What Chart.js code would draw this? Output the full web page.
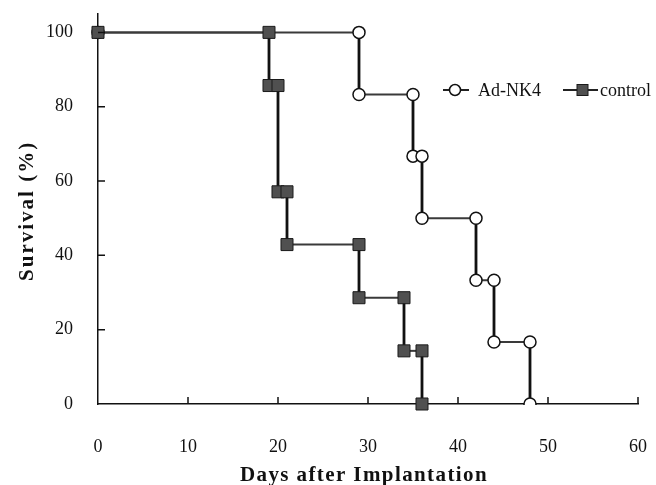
<!DOCTYPE html>
<html>
<head>
<meta charset="utf-8">
<script src="https://cdn.jsdelivr.net/npm/chart.js@4"></script>
<style>
  html, body { margin: 0; padding: 0; background: #fff; }
  #chart-box { width: 656px; height: 485px; }
</style>
</head>
<body>
<div id="chart-box"><canvas id="survival-chart"></canvas></div>
<script>
// Kaplan-Meier 生存曲線 (每個轉折點)
const adDays = [0, 29, 29, 35, 35, 36, 36, 42, 42, 44, 44, 48, 48];
const adSurvival = [100, 100, 83.3, 83.3, 66.7, 66.7, 50, 50, 33.3, 33.3, 16.7, 16.7, 0];
const controlDays = [0, 19, 19, 20, 20, 21, 21, 29, 29, 34, 34, 36, 36];
const controlSurvival = [100, 100, 85.7, 85.7, 57.1, 57.1, 42.9, 42.9, 28.6, 28.6, 14.3, 14.3, 0];
const xTicks = [0, 10, 20, 30, 40, 50, 60];
const yTicks = [0, 20, 40, 60, 80, 100];

const serif = "'Liberation Serif', 'DejaVu Serif', serif";

const toPoints = (xs, ys) => xs.map((x, i) => ({ x, y: ys[i] }));

// 垂直段較粗、水平段較細
const isVertical = (seg) => seg.p0.parsed.x === seg.p1.parsed.x;
const stepSegment = {
  borderWidth: (seg) => (isVertical(seg) ? 2.8 : 2),
  borderColor: (seg) => (isVertical(seg) ? "#111" : "#3a3a3a"),
};

// 軸上朝內的刻度線
const innerTicks = {
  id: "innerTicks",
  afterDraw(chart) {
    const { ctx, chartArea, scales } = chart;
    ctx.save();
    ctx.strokeStyle = "#111";
    ctx.lineWidth = 1.5;
    ctx.beginPath();
    yTicks.forEach((v) => {
      if (v === 0) return;
      const y = scales.y.getPixelForValue(v);
      ctx.moveTo(chartArea.left, y);
      ctx.lineTo(chartArea.left + 7, y);
    });
    xTicks.forEach((v) => {
      if (v === 0) return;
      const x = scales.x.getPixelForValue(v);
      ctx.moveTo(x, chartArea.bottom);
      ctx.lineTo(x, chartArea.bottom - 7);
    });
    ctx.stroke();
    ctx.restore();
  },
};

// 軸標題 (字距加寬)
const axisTitles = {
  id: "axisTitles",
  afterDraw(chart) {
    const { ctx, chartArea } = chart;
    ctx.save();
    ctx.fillStyle = "#111";
    ctx.textAlign = "center";
    ctx.textBaseline = "alphabetic";

    ctx.font = `bold 21px ${serif}`;
    ctx.letterSpacing = "1.4px";
    ctx.fillText("Days after Implantation", 364, 481);

    ctx.translate(33, (chartArea.top + chartArea.bottom) / 2 + 2);
    ctx.rotate(-Math.PI / 2);
    ctx.letterSpacing = "2px";
    ctx.fillText("Survival (%)", 0, 0);
    ctx.restore();
  },
};

// 圖例: 線段 + 標記 + 文字
const stepLegend = {
  id: "stepLegend",
  afterDraw(chart) {
    const { ctx } = chart;
    const y = 90;
    ctx.save();
    ctx.strokeStyle = "#222";
    ctx.lineWidth = 2;
    ctx.beginPath();
    ctx.moveTo(443, y);
    ctx.lineTo(469, y);
    ctx.moveTo(563, y);
    ctx.lineTo(598, y);
    ctx.stroke();

    ctx.strokeStyle = "#111";
    ctx.lineWidth = 1.5;
    ctx.fillStyle = "#fff";
    ctx.beginPath();
    ctx.arc(455, y, 5.5, 0, Math.PI * 2);
    ctx.fill();
    ctx.stroke();

    ctx.fillStyle = "#505050";
    ctx.strokeStyle = "#1a1a1a";
    ctx.lineWidth = 1;
    ctx.fillRect(577, y - 5.5, 11, 11);
    ctx.strokeRect(577, y - 5.5, 11, 11);

    ctx.fillStyle = "#111";
    ctx.font = `18px ${serif}`;
    ctx.textBaseline = "middle";
    ctx.fillText("Ad-NK4", 478, y + 1);
    ctx.fillText("control", 600, y + 1);
    ctx.restore();
  },
};

const ctx = document.getElementById("survival-chart");

new Chart(ctx, {
  type: "line",
  data: {
    datasets: [
      {
        label: "Ad-NK4",
        data: toPoints(adDays, adSurvival),
        borderColor: "#111",
        borderWidth: 2,
        segment: stepSegment,
        pointStyle: "circle",
        pointRadius: 6,
        pointBorderWidth: 1.5,
        pointBackgroundColor: "#fff",
        pointBorderColor: "#111",
        clip: { left: false, top: false, right: false, bottom: 1 },
        order: 2,
      },
      {
        label: "control",
        data: toPoints(controlDays, controlSurvival),
        borderColor: "#111",
        borderWidth: 2,
        segment: stepSegment,
        pointStyle: "rect",
        pointRadius: 8.5,
        pointBorderWidth: 1,
        pointBackgroundColor: "#505050",
        pointBorderColor: "#1a1a1a",
        clip: false,
        order: 1,
      },
    ],
  },
  options: {
    responsive: true,
    maintainAspectRatio: false,
    animation: false,
    layout: { padding: { left: 6, right: 18, top: 12, bottom: 0 } },
    plugins: {
      legend: { display: false },
      tooltip: { enabled: false },
    },
    scales: {
      x: {
        type: "linear",
        min: 0,
        max: 60,
        afterBuildTicks: (scale) => {
          scale.ticks = xTicks.map((v) => ({ value: v }));
        },
        afterFit: (scale) => {
          scale.height = 81;
        },
        // 透明的 tick 只用來把數字往下推
        grid: {
          display: true,
          drawOnChartArea: false,
          drawTicks: true,
          tickLength: 29,
          tickColor: "rgba(0,0,0,0)",
        },
        border: { display: true, color: "#111", width: 1.5 },
        ticks: {
          padding: 3,
          color: "#111",
          font: { family: serif, size: 18 },
          maxRotation: 0,
        },
        title: { display: false },
      },
      y: {
        type: "linear",
        min: 0,
        max: 105,
        afterBuildTicks: (scale) => {
          scale.ticks = yTicks.map((v) => ({ value: v }));
        },
        afterFit: (scale) => {
          scale.width = 92;
        },
        grid: {
          display: true,
          drawOnChartArea: false,
          drawTicks: true,
          tickLength: 22,
          tickColor: "rgba(0,0,0,0)",
        },
        border: { display: true, color: "#111", width: 1.5 },
        ticks: {
          padding: 3,
          color: "#111",
          font: { family: serif, size: 18 },
        },
        title: { display: false },
      },
    },
  },
  plugins: [innerTicks, axisTitles, stepLegend],
});
</script>
</body>
</html>
